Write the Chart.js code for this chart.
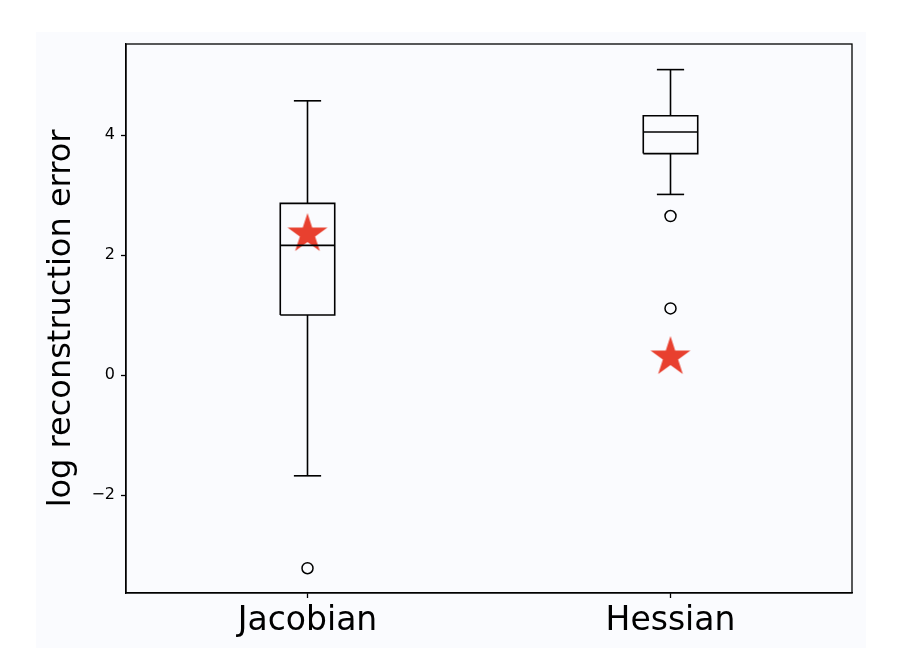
<!DOCTYPE html>
<html>
<head>
<meta charset="utf-8">
<script src="https://cdn.jsdelivr.net/npm/chart.js@4"></script>
<style>
html,body{margin:0;padding:0;background:#ffffff;}
#wrap{width:908px;height:652px;position:relative;}
</style>
</head>
<body>
<div id="wrap"><canvas id="c" width="908" height="652"></canvas></div>
<script>
// ---- data ----
const categories = ['Jacobian', 'Hessian'];
const whiskerLow = [-1.68, 3.01];
const q1 = [1.00, 3.69];
const median = [2.16, 4.05];
const q3 = [2.86, 4.32];
const whiskerHigh = [4.57, 5.09];
const outliers = [[-3.22], [2.65, 1.11]];
const stars = [2.35, 0.30];
const yTicks = [-2, 0, 2, 4];

// ---- styling ----
const BOX_HALF = 0.075;
const CAP_HALF = 0.0375;
const LW = 1.6;
const STAR_COLOR = '#e8402f';

function makeStar(R, color) {
  const size = Math.ceil(R * 2 + 4);
  const cv = document.createElement('canvas');
  cv.width = size; cv.height = size;
  const g = cv.getContext('2d');
  const cx = size / 2, cy = size / 2, r = R * 0.381966;
  g.beginPath();
  for (let i = 0; i < 10; i++) {
    const rad = i % 2 === 0 ? R : r;
    const a = -Math.PI / 2 + i * Math.PI / 5;
    const px = cx + rad * Math.cos(a), py = cy + rad * Math.sin(a);
    if (i === 0) g.moveTo(px, py); else g.lineTo(px, py);
  }
  g.closePath();
  g.fillStyle = color;
  g.fill();
  return cv;
}
const starImg = makeStar(21, STAR_COLOR);

function seg(points) {
  return {
    data: points, showLine: true, borderColor: '#000', borderWidth: LW,
    pointRadius: 0, pointHoverRadius: 0, fill: false, tension: 0, order: 1,
    borderCapStyle: 'butt', borderJoinStyle: 'miter'
  };
}

const datasets = [];
categories.forEach((c, i) => {
  const x = i + 1;
  datasets.push(seg([
    {x: x - BOX_HALF, y: q1[i]}, {x: x + BOX_HALF, y: q1[i]},
    {x: x + BOX_HALF, y: q3[i]}, {x: x - BOX_HALF, y: q3[i]},
    {x: x - BOX_HALF, y: q1[i]}
  ]));
  datasets.push(seg([{x: x - BOX_HALF, y: median[i]}, {x: x + BOX_HALF, y: median[i]}]));
  datasets.push(seg([{x: x, y: q3[i]}, {x: x, y: whiskerHigh[i]}]));
  datasets.push(seg([{x: x, y: q1[i]}, {x: x, y: whiskerLow[i]}]));
  datasets.push(seg([{x: x - CAP_HALF, y: whiskerHigh[i]}, {x: x + CAP_HALF, y: whiskerHigh[i]}]));
  datasets.push(seg([{x: x - CAP_HALF, y: whiskerLow[i]}, {x: x + CAP_HALF, y: whiskerLow[i]}]));
});
datasets.push({
  data: outliers.flatMap((arr, i) => arr.map(v => ({x: i + 1, y: v}))),
  showLine: false, pointStyle: 'circle', pointRadius: 5.5, pointHoverRadius: 5.5,
  pointBorderColor: '#000', pointBackgroundColor: 'rgba(0,0,0,0)', pointBorderWidth: 1.5, order: 0
});
datasets.push({
  data: stars.map((v, i) => ({x: i + 1, y: v})),
  showLine: false, pointStyle: starImg, pointRadius: 21, pointHoverRadius: 21, order: 2
});

const bgPlugin = {
  id: 'bg',
  beforeDraw(chart) {
    const ctx = chart.ctx;
    ctx.save();
    ctx.fillStyle = '#fafbfe';
    ctx.fillRect(36, 32, 830, 616);
    ctx.restore();
  },
  afterDraw(chart) {
    const a = chart.chartArea, ctx = chart.ctx;
    ctx.save();
    ctx.strokeStyle = '#000';
    ctx.lineWidth = 1.3;
    ctx.strokeRect(a.left, a.top, a.right - a.left, a.bottom - a.top);
    ctx.restore();
  }
};

new Chart(document.getElementById('c'), {
  type: 'scatter',
  data: { datasets },
  plugins: [bgPlugin],
  options: {
    responsive: false,
    animation: false,
    events: [],
    layout: { padding: { left: 0, top: 44, right: 56, bottom: 0 } },
    plugins: { legend: { display: false }, tooltip: { enabled: false } },
    scales: {
      x: {
        type: 'linear', min: 0.5, max: 2.5,
        afterBuildTicks(s) { s.ticks = categories.map((c, i) => ({value: i + 1})); },
        afterFit(s) { s.height = 59; },
        ticks: {
          callback: v => categories[Math.round(v) - 1],
          color: '#000', padding: 4, maxRotation: 0,
          font: { family: 'DejaVu Sans', size: 33 }
        },
        grid: { drawOnChartArea: false, drawTicks: true, tickLength: 5, tickColor: '#000', tickWidth: 1.3 },
        border: { display: true, color: '#000', width: 1.3 }
      },
      y: {
        type: 'linear', min: -3.633, max: 5.517,
        afterBuildTicks(s) { s.ticks = yTicks.map(v => ({value: v})); },
        afterFit(s) { s.width = 126; },
        ticks: {
          callback: v => (v < 0 ? '\u2212' + Math.abs(v) : String(v)),
          color: '#000', padding: 6,
          font: { family: 'DejaVu Sans', size: 16 }
        },
        grid: { drawOnChartArea: false, drawTicks: true, tickLength: 5, tickColor: '#000', tickWidth: 1.3 },
        border: { display: true, color: '#000', width: 1.3 },
        title: {
          display: true, text: 'log reconstruction error', color: '#000',
          font: { family: 'DejaVu Sans', size: 32 }, padding: { top: 42, bottom: 0 }
        }
      }
    }
  }
});
</script>
</body>
</html>
